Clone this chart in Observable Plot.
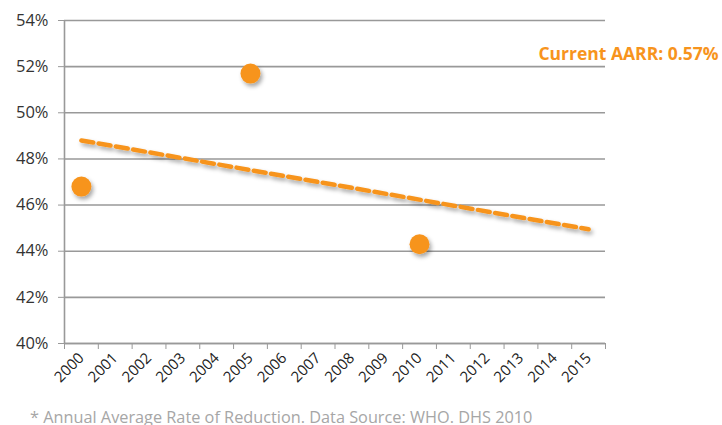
<!DOCTYPE html>
<html>
<head>
<meta charset="utf-8">
<script src="https://cdn.jsdelivr.net/npm/d3@7"></script>
<script src="https://cdn.jsdelivr.net/npm/@observablehq/plot@0.6"></script>
<style>
  html, body { margin: 0; padding: 0; background: #fff; overflow: hidden; }
  #chart svg { display: block; }
  #caption { font-family: "Open Sans", sans-serif; font-size: 16.3px; color: #a6a6a6; margin: 2px 0 0 30px; line-height: 20px; white-space: nowrap; }
</style>
</head>
<body>
<div id="chart"></div>
<div id="caption">* Annual Average Rate of Reduction. Data Source: WHO. DHS 2010</div>
<script>
// Data
const years = [2000, 2001, 2002, 2003, 2004, 2005, 2006, 2007, 2008, 2009, 2010, 2011, 2012, 2013, 2014, 2015];
const obsYears = [2000, 2005, 2010];
const obsValues = [46.8, 51.7, 44.3];
const trendYears = [2000, 2015];
const trendValues = [48.8, 44.95];
const yTicks = [40, 42, 44, 46, 48, 50, 52, 54];
const annotation = "Current AARR: 0.57%";

const orange = "#F7941D";
const gray = "#999999";

const observed = obsYears.map((y, i) => ({year: y, value: obsValues[i]}));
const trend = trendYears.map((y, i) => ({year: y, value: trendValues[i]}));
const boundaries = [...years.map(y => y - 0.5), years[years.length - 1] + 0.5];

const chart = Plot.plot({
  width: 722,
  height: 405,
  marginLeft: 64,
  marginRight: 117,
  marginTop: 20,
  marginBottom: 62,
  style: {fontFamily: "'Open Sans', sans-serif", background: "#fff"},
  x: {type: "linear", domain: [boundaries[0], boundaries[boundaries.length - 1]]},
  y: {domain: [40, 54]},
  marks: [
    Plot.gridY(yTicks, {stroke: gray, strokeOpacity: 1, strokeWidth: 1.6}),
    Plot.ruleX([boundaries[0]], {stroke: gray, strokeWidth: 1.6}),
    Plot.ruleY([40], {stroke: gray, strokeWidth: 1.6}),
    Plot.axisY(yTicks, {
      tickFormat: d => d + "%", tickSize: 6, tickPadding: 10,
      stroke: gray, fill: "#333", fontSize: 16.5, label: null
    }),
    Plot.axisX(boundaries, {tickSize: 6, tickFormat: () => "", stroke: gray, label: null}),
    Plot.axisX(years, {
      tickSize: 0, tickPadding: 12, tickRotate: -45, tickFormat: d => String(d),
      fill: "#222", fontSize: 15, label: null
    }),
    Plot.line(trend, {
      x: "year", y: "value", stroke: orange, strokeWidth: 4.5,
      strokeDasharray: "12,5.5", className: "trendline"
    }),
    Plot.dot(observed, {x: "year", y: "value", r: 10, fill: orange, className: "obspoints"}),
    Plot.text([annotation], {
      frameAnchor: "top-right", textAnchor: "end", lineAnchor: "middle", dx: 113, dy: 34,
      fill: orange, fontSize: 17.5, fontWeight: "bold"
    })
  ]
});

// soft drop shadow like the original
const svg = d3.select(chart);
const defs = svg.insert("defs", ":first-child");
const f = defs.append("filter").attr("id", "shadow")
  .attr("filterUnits", "userSpaceOnUse").attr("x", 0).attr("y", 0).attr("width", 722).attr("height", 405);
f.append("feDropShadow").attr("dx", 2).attr("dy", 3).attr("stdDeviation", 2)
  .attr("flood-color", "#000").attr("flood-opacity", 0.35);
svg.selectAll("g.trendline, g.obspoints").attr("filter", "url(#shadow)");

document.getElementById("chart").appendChild(chart);
</script>
</body>
</html>
